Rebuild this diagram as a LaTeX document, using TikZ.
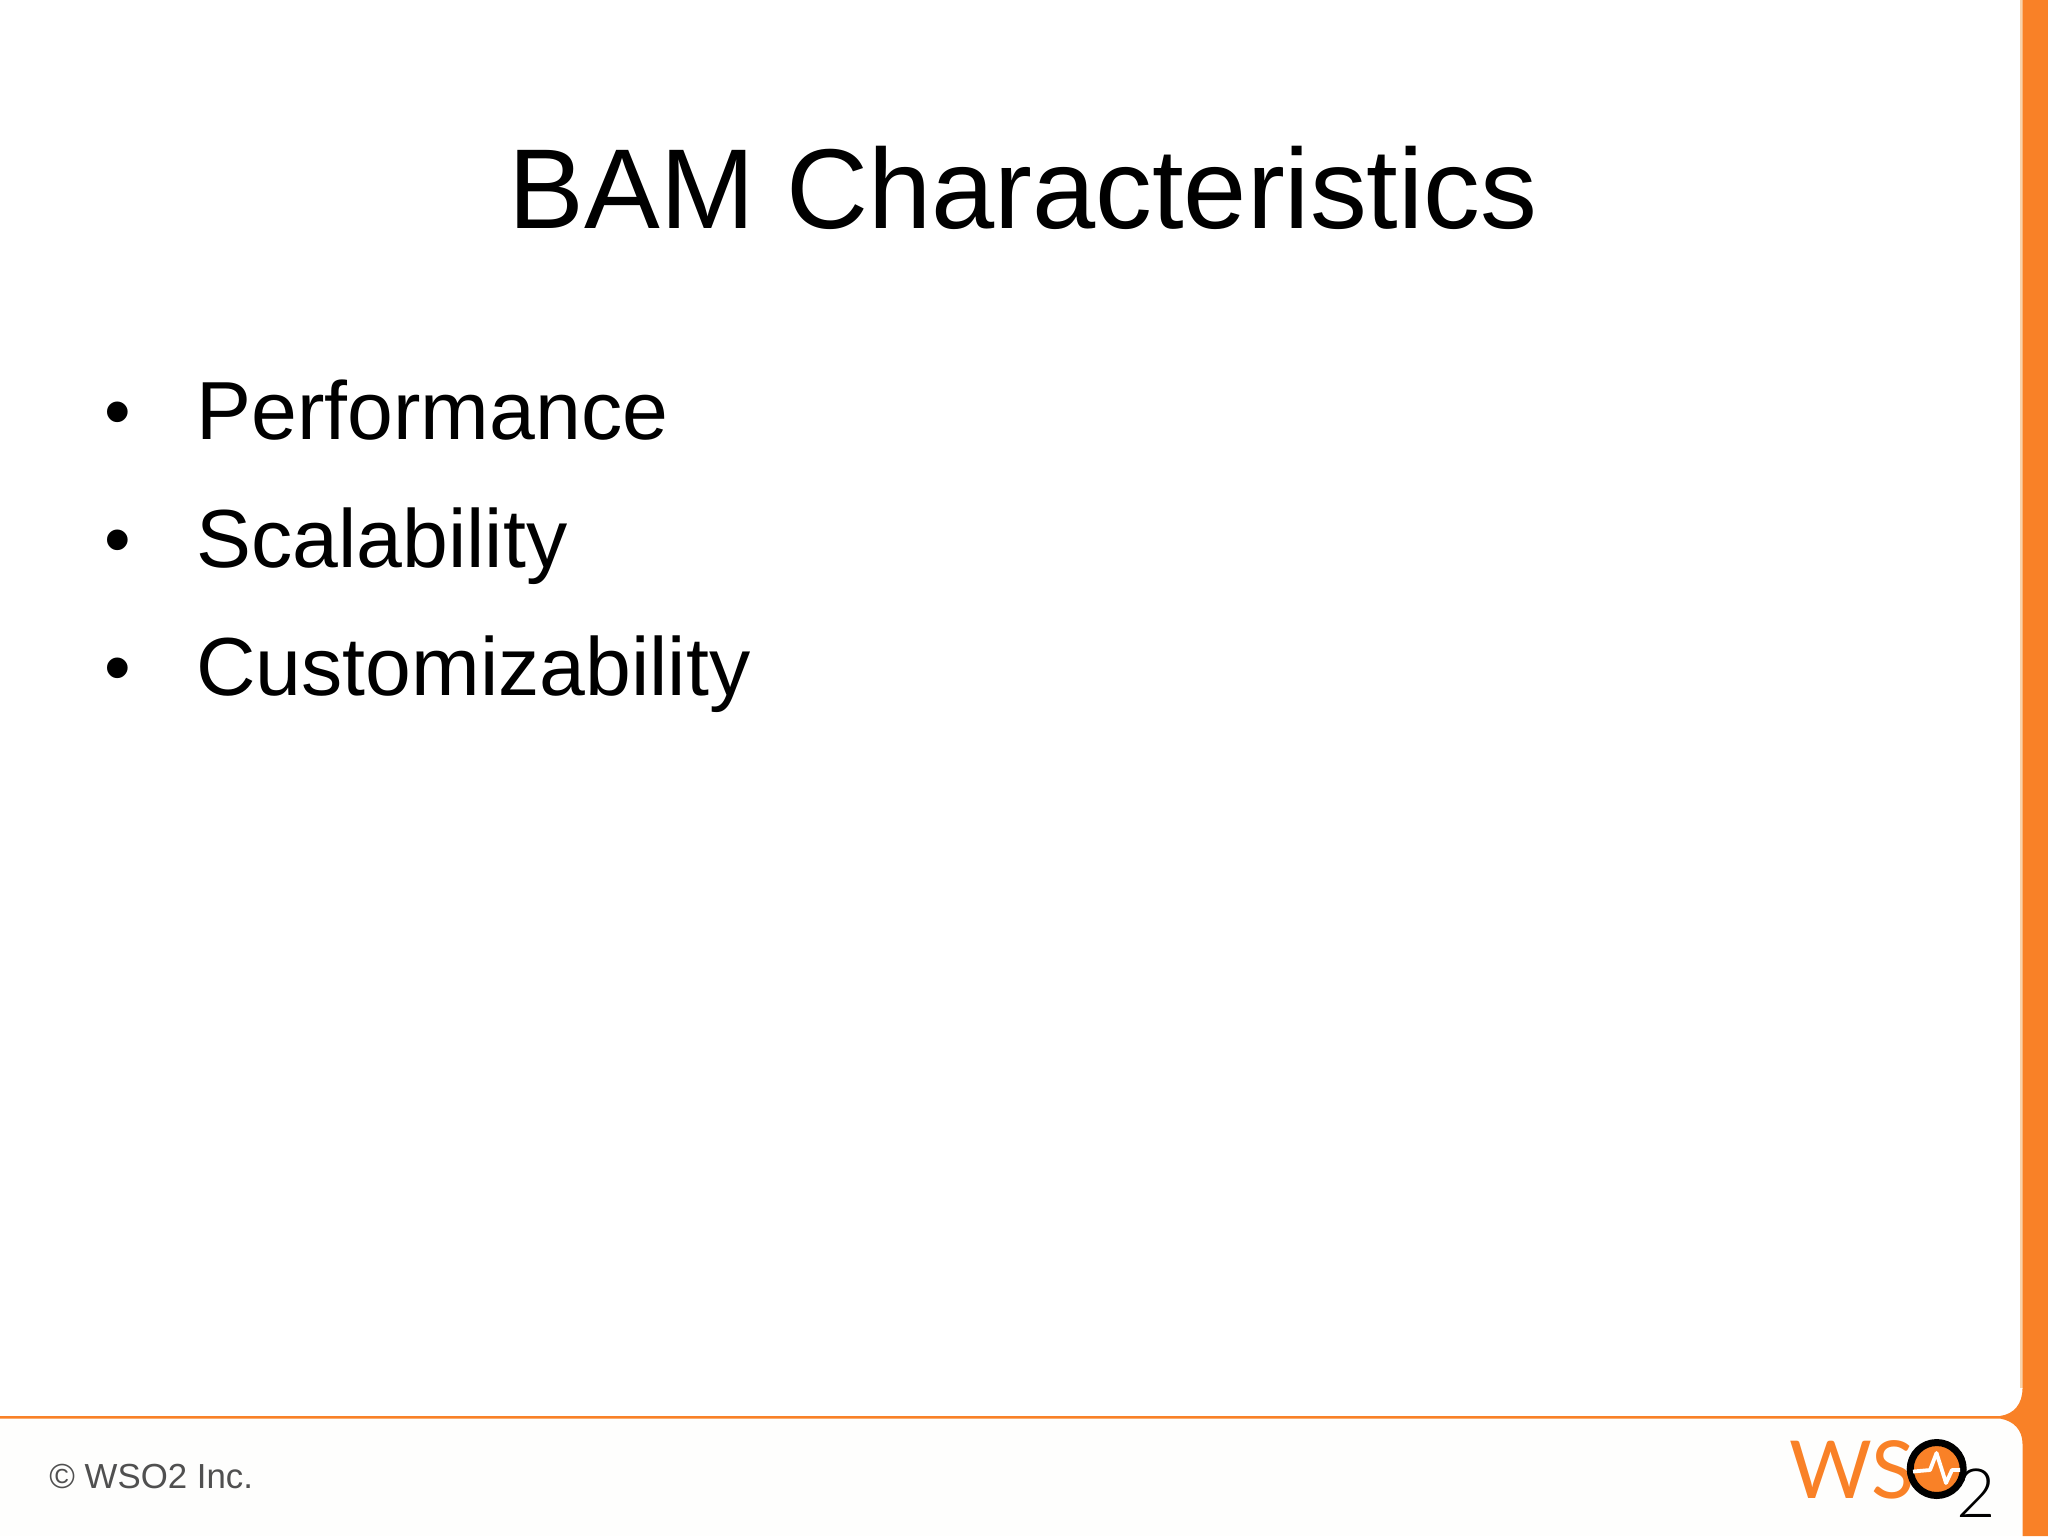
\documentclass[tikz,border=0pt]{standalone}
\usepackage{fontspec}
\setmainfont{Liberation Sans}
\newfontfamily\logofont{Lato}
\newfontfamily\logolight{Lato}[UprightFont=* Light]
\definecolor{wsoorange}{HTML}{F98127}
\definecolor{footerbg}{HTML}{FEFEFD}
\definecolor{copygray}{HTML}{505050}
\definecolor{bandedge}{HTML}{F9D3AC}
\tikzset{
  titletext/.style={anchor=base,inner sep=0pt,font=\fontsize{56.8}{60}\selectfont,text=black},
  bodytext/.style={anchor=base west,inner sep=0pt,font=\fontsize{41.2}{46}\selectfont,text=black},
  bullettext/.style={anchor=base west,inner sep=0pt,font=\fontsize{38}{42}\selectfont,text=black},
  logotext/.style={anchor=base west,inner sep=0pt,text=wsoorange,font=\logolight\fontsize{40}{44}\selectfont},
}
\begin{document}
\begin{tikzpicture}[x=0.5pt,y=-0.5pt]
\useasboundingbox (0,0) rectangle (2048,1536);
\fill[white] (0,0) rectangle (2048,1536);
\fill[footerbg] (0,1418) rectangle (2022,1536);
% band with fillets
\fill[bandedge] (2020,0) -- (2023,0) -- (2023,1388) -- (2020,1388) -- cycle;
\fill[wsoorange] (2048,0) -- (2022.5,0) -- (2022.5,1388)
  .. controls (2022.5,1404) and (2014,1414) .. (2000,1416)
  -- (0,1416) -- (0,1418.5) -- (2000,1418.5)
  .. controls (2014,1421) and (2022.5,1430) .. (2022.5,1444)
  -- (2022.5,1536) -- (2048,1536) -- cycle;
% title and bullets
\node[titletext] (title) at (1023,228.6) {BAM Characteristics};
\node[bullettext] (b1) at (103.6,437) {•};
\node[bodytext] (t1) at (196,439) {Performance};
\node[bullettext] (b2) at (103.6,565) {•};
\node[bodytext] (t2) at (196,567) {Scalability};
\node[bullettext] (b3) at (103.6,693) {•};
\node[bodytext] (t3) at (196,695) {Customizability};
% footer
\node[anchor=base west,inner sep=0pt,text=copygray,font=\fontsize{17.4}{20}\selectfont] (copy) at (49,1488) {© WSO2 Inc.};
% logo
\node[logotext,text=wsoorange,preaction={}] (ws) at (1789,1498) {\logofont WS};
\fill[wsoorange,draw=black,line width=3.5pt] (1936.7,1469) circle (26.5);
\draw[white,line width=1.9pt,line join=round] (1913,1471.5) -- (1930,1470) -- (1936.5,1453) -- (1946,1483) -- (1952,1470) -- (1960,1470);
\node[anchor=base west,inner sep=0pt,text=black,font=\logolight\fontsize{34}{38}\selectfont] (two) at (1956,1517) {2};
\end{tikzpicture}
\end{document}
